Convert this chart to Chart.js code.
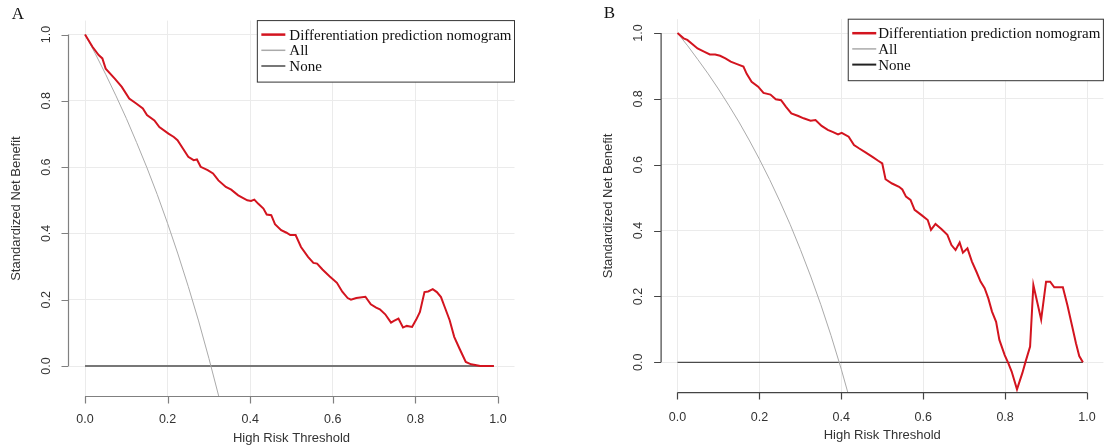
<!DOCTYPE html>
<html>
<head>
<meta charset="utf-8">
<script src="https://cdn.jsdelivr.net/npm/chart.js@4.4.1/dist/chart.umd.min.js"></script>
<style>
  html, body { margin: 0; padding: 0; background: #fff; }
  #wrap { position: relative; width: 1105px; height: 447px; }
  canvas { position: absolute; top: 0; }
  #chartA { left: 0; }
  #chartB { left: 552px; }
</style>
</head>
<body>
<div id="wrap">
  <canvas id="chartA" width="552" height="447"></canvas>
  <canvas id="chartB" width="553" height="447"></canvas>
</div>
<script>
const xTicks = [0, 0.2, 0.4, 0.6, 0.8, 1.0];
const yTicks = [0, 0.2, 0.4, 0.6, 0.8, 1.0];
const legendLabels = ['Differentiation prediction nomogram', 'All', 'None'];

// panel A
const aThreshold = [0, 0.018, 0.033, 0.042, 0.05, 0.072, 0.089, 0.107, 0.124, 0.14, 0.15, 0.168, 0.18, 0.202, 0.215, 0.224, 0.237, 0.25, 0.263, 0.271, 0.28, 0.297, 0.31, 0.323, 0.341, 0.354, 0.371, 0.393, 0.402, 0.41, 0.419, 0.432, 0.44, 0.451, 0.46, 0.475, 0.488, 0.497, 0.51, 0.523, 0.54, 0.553, 0.562, 0.575, 0.592, 0.61, 0.623, 0.636, 0.644, 0.657, 0.679, 0.692, 0.705, 0.714, 0.727, 0.741, 0.748, 0.759, 0.77, 0.779, 0.792, 0.802, 0.811, 0.822, 0.831, 0.842, 0.852, 0.862, 0.871, 0.883, 0.894, 0.907, 0.922, 0.935, 0.948, 0.957, 0.99];
const aNomogram = [1.0, 0.963, 0.938, 0.928, 0.897, 0.867, 0.842, 0.807, 0.792, 0.777, 0.757, 0.741, 0.721, 0.701, 0.691, 0.681, 0.656, 0.631, 0.621, 0.623, 0.601, 0.591, 0.581, 0.56, 0.54, 0.532, 0.515, 0.5, 0.498, 0.502, 0.49, 0.475, 0.457, 0.455, 0.428, 0.41, 0.402, 0.395, 0.395, 0.359, 0.329, 0.311, 0.309, 0.291, 0.271, 0.251, 0.224, 0.205, 0.2, 0.205, 0.209, 0.186, 0.176, 0.171, 0.156, 0.131, 0.136, 0.143, 0.116, 0.121, 0.118, 0.14, 0.163, 0.223, 0.225, 0.232, 0.223, 0.208, 0.178, 0.138, 0.088, 0.052, 0.012, 0.005, 0.002, 0.0, 0.0];
const aAllThreshold = [0, 0.025, 0.05, 0.075, 0.1, 0.125, 0.15, 0.175, 0.2, 0.225, 0.25, 0.275, 0.3, 0.324];
const aAll = [1.0, 0.942, 0.88, 0.815, 0.747, 0.674, 0.598, 0.517, 0.43, 0.338, 0.24, 0.136, 0.023, -0.092];

// panel B
const bThreshold = [0, 0.015, 0.024, 0.036, 0.049, 0.066, 0.079, 0.092, 0.104, 0.117, 0.13, 0.147, 0.161, 0.169, 0.181, 0.197, 0.21, 0.227, 0.24, 0.253, 0.265, 0.278, 0.295, 0.308, 0.325, 0.337, 0.352, 0.367, 0.38, 0.392, 0.401, 0.418, 0.431, 0.443, 0.46, 0.477, 0.49, 0.5, 0.508, 0.524, 0.541, 0.549, 0.558, 0.569, 0.579, 0.596, 0.611, 0.619, 0.63, 0.645, 0.659, 0.669, 0.679, 0.689, 0.697, 0.708, 0.719, 0.73, 0.74, 0.75, 0.759, 0.768, 0.778, 0.786, 0.799, 0.808, 0.816, 0.829, 0.842, 0.85, 0.861, 0.869, 0.888, 0.9, 0.91, 0.92, 0.941, 0.952, 0.964, 0.973, 0.981, 0.99];
const bNomogram = [1.0, 0.984, 0.979, 0.967, 0.953, 0.943, 0.935, 0.935, 0.931, 0.923, 0.913, 0.905, 0.898, 0.876, 0.852, 0.837, 0.818, 0.813, 0.799, 0.796, 0.776, 0.756, 0.748, 0.741, 0.734, 0.736, 0.718, 0.706, 0.699, 0.692, 0.697, 0.685, 0.66, 0.65, 0.637, 0.623, 0.612, 0.604, 0.556, 0.543, 0.533, 0.525, 0.503, 0.493, 0.463, 0.447, 0.432, 0.402, 0.42, 0.404, 0.387, 0.356, 0.341, 0.364, 0.333, 0.346, 0.306, 0.275, 0.245, 0.225, 0.194, 0.154, 0.123, 0.068, 0.022, -0.003, -0.028, -0.082, -0.033, 0.002, 0.048, 0.235, 0.13, 0.245, 0.245, 0.228, 0.228, 0.174, 0.108, 0.058, 0.019, 0.0];
const bAllThreshold = [0, 0.025, 0.05, 0.075, 0.1, 0.125, 0.15, 0.175, 0.2, 0.225, 0.25, 0.275, 0.3, 0.325, 0.35, 0.375, 0.4, 0.416];
const bAll = [1.0, 0.961, 0.919, 0.876, 0.83, 0.781, 0.73, 0.675, 0.617, 0.555, 0.489, 0.419, 0.343, 0.262, 0.175, 0.081, -0.021, -0.092];

const noneThreshold = [0, 0.99];
const noneValue = [0, 0];

function pts(xs, ys) {
  return xs.map((x, i) => ({ x: x, y: ys[i] }));
}

// draws the R-style bits: axis lines with ticks, rotated y labels, legend box, panel letter
const rBase = {
  id: 'rbase',
  afterDraw(chart, args, o) {
    const ctx = chart.ctx;
    const xs = chart.scales.x, ys = chart.scales.y, area = chart.chartArea;
    ctx.save();
    ctx.strokeStyle = o.axisColor;
    ctx.lineWidth = 1.2;
    ctx.beginPath();
    ctx.moveTo(xs.getPixelForValue(0), area.bottom);
    ctx.lineTo(xs.getPixelForValue(1), area.bottom);
    xTicks.forEach(v => {
      const px = Math.round(xs.getPixelForValue(v)) + 0.5;
      ctx.moveTo(px, area.bottom);
      ctx.lineTo(px, area.bottom + 7);
    });
    ctx.moveTo(area.left, ys.getPixelForValue(0));
    ctx.lineTo(area.left, ys.getPixelForValue(1));
    yTicks.forEach(v => {
      const py = Math.round(ys.getPixelForValue(v)) + 0.5;
      ctx.moveTo(area.left, py);
      ctx.lineTo(area.left - 7, py);
    });
    ctx.stroke();

    ctx.fillStyle = '#333';
    ctx.font = '12.5px "Liberation Sans", Arial, sans-serif';
    ctx.textAlign = 'center';
    ctx.textBaseline = 'middle';
    yTicks.forEach(v => {
      ctx.save();
      ctx.translate(o.yLabelX, ys.getPixelForValue(v));
      ctx.rotate(-Math.PI / 2);
      ctx.fillText(v.toFixed(1), 0, 0);
      ctx.restore();
    });

    // legend
    ctx.font = '15px "Liberation Serif", "Times New Roman", serif';
    const w = ctx.measureText(legendLabels[0]).width + o.textInset + 3;
    const h = 61.5;
    const lx = area.right - w, ly = area.top;
    ctx.fillStyle = '#fff';
    ctx.fillRect(lx, ly, w, h);
    ctx.strokeStyle = '#333';
    ctx.lineWidth = 1;
    ctx.strokeRect(lx, ly, w, h);
    const colors = chart.data.datasets.map(d => d.borderColor);
    const widths = [2.5, 1.5, 2];
    ctx.textAlign = 'left';
    legendLabels.forEach((lab, i) => {
      const yy = ly + 14 + i * 15.7;
      ctx.strokeStyle = colors[i];
      ctx.lineWidth = widths[i];
      ctx.beginPath();
      ctx.moveTo(lx + 4, yy);
      ctx.lineTo(lx + 28, yy);
      ctx.stroke();
      ctx.fillStyle = '#111';
      ctx.fillText(lab, lx + o.textInset, yy + 1);
    });

    ctx.font = '17px "Liberation Serif", "Times New Roman", serif';
    ctx.textAlign = 'center';
    ctx.fillStyle = '#111';
    ctx.fillText(o.letter, o.letterX, o.letterY);
    ctx.restore();
  }
};

function makePanel(id, s) {
  return new Chart(document.getElementById(id), {
    type: 'line',
    data: {
      datasets: [{
        label: legendLabels[0],
        data: pts(s.threshold, s.nomogram),
        borderColor: '#d3141f',
        borderWidth: 2,
        pointRadius: 0,
        order: 0
      }, {
        label: legendLabels[1],
        data: pts(s.allThreshold, s.all),
        borderColor: '#aaaaaa',
        borderWidth: 1,
        pointRadius: 0,
        order: 1
      }, {
        label: legendLabels[2],
        data: pts(noneThreshold, noneValue),
        borderColor: s.noneColor,
        borderWidth: s.noneWidth,
        pointRadius: 0,
        order: 2
      }]
    },
    options: {
      responsive: false,
      animation: false,
      events: [],
      layout: { padding: { top: s.top, right: s.right, left: 0, bottom: 0 } },
      plugins: {
        legend: { display: false },
        tooltip: { enabled: false },
        rbase: s.extra
      },
      scales: {
        x: {
          type: 'linear',
          min: -0.04,
          max: 1.04,
          afterBuildTicks: sc => { sc.ticks = xTicks.map(v => ({ value: v })); },
          afterFit: sc => { sc.height = s.bottom; sc.paddingLeft = 0; sc.paddingRight = 0; },
          grid: { color: '#ebebeb', drawTicks: false },
          border: { display: false },
          ticks: {
            callback: v => v.toFixed(1),
            font: { family: 'Liberation Sans', size: 12.5 },
            color: '#333',
            padding: s.tickPad,
            maxRotation: 0,
            autoSkip: false
          },
          title: {
            display: true,
            text: 'High Risk Threshold',
            font: { family: 'Liberation Sans', size: 13 },
            color: '#333',
            padding: { top: 0, bottom: s.xTitlePad }
          }
        },
        y: {
          type: 'linear',
          min: -0.092,
          max: 1.042,
          afterBuildTicks: sc => { sc.ticks = yTicks.map(v => ({ value: v })); },
          afterFit: sc => { sc.width = s.left; sc.paddingTop = 0; sc.paddingBottom = 0; },
          grid: { color: '#ebebeb', drawTicks: false },
          border: { display: false },
          ticks: { display: false },
          title: {
            display: true,
            text: 'Standardized Net Benefit',
            font: { family: 'Liberation Sans', size: 13 },
            color: '#333',
            padding: { top: s.yTitlePad, bottom: 0 }
          }
        }
      }
    },
    plugins: [rBase]
  });
}

makePanel('chartA', {
  threshold: aThreshold, nomogram: aNomogram,
  allThreshold: aAllThreshold, all: aAll,
  noneColor: '#777', noneWidth: 1.8,
  top: 20.6, right: 37.5, left: 68.5, bottom: 50.5,
  tickPad: 16, xTitlePad: 0.5, yTitlePad: 8.5,
  extra: { axisColor: '#808080', yLabelX: 47, textInset: 32, letter: 'A', letterX: 18, letterY: 15 }
});

makePanel('chartB', {
  threshold: bThreshold, nomogram: bNomogram,
  allThreshold: bAllThreshold, all: bAll,
  noneColor: '#222', noneWidth: 1,
  top: 19.2, right: 1.6, left: 109.1, bottom: 54.4,
  tickPad: 17, xTitlePad: 4, yTitlePad: 48.7,
  extra: { axisColor: '#444', yLabelX: 86.5, textInset: 30, letter: 'B', letterX: 57.5, letterY: 13.5 }
});
</script>
</body>
</html>
